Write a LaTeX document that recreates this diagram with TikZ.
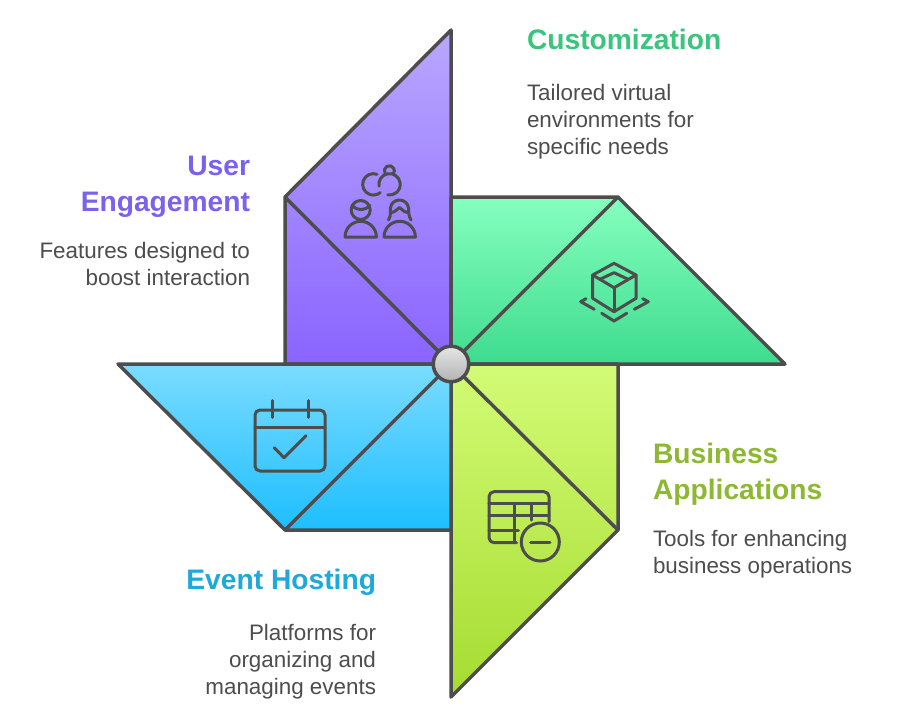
\documentclass[tikz,border=0pt]{standalone}
\usepackage{fontspec}
\setmainfont{Liberation Sans}
\newcommand{\ttl}{\fontsize{28.2}{36}\selectfont\bfseries}
\newcommand{\bdy}{\fontsize{22.4}{27}\selectfont}
\definecolor{ink}{HTML}{4D4D4D}
\definecolor{pTop}{HTML}{B9A7FF}\definecolor{pBot}{HTML}{8A64FF}
\definecolor{gTop}{HTML}{85FFBF}\definecolor{gBot}{HTML}{3EDC8E}
\definecolor{lTop}{HTML}{D3FB76}\definecolor{lBot}{HTML}{A5DC30}
\definecolor{bTop}{HTML}{7BDCFF}\definecolor{bBot}{HTML}{1DBEFF}
\definecolor{pTxt}{HTML}{7B61EC}
\definecolor{gTxt}{HTML}{3AC47D}
\definecolor{lTxt}{HTML}{8FB832}
\definecolor{bTxt}{HTML}{1EA8DB}
\tikzset{
  blade/.style={line width=3.5pt,draw=ink,line join=round},
  seam/.style={line width=3.5pt,draw=ink,line cap=round},
  ico/.style={line width=3pt,draw=ink,line cap=round,line join=round},
  txt/.style={inner sep=0pt,outer sep=0pt,text=ink},
}
\begin{document}
\begin{tikzpicture}[x=1pt,y=-1pt]
\useasboundingbox[fill=white] (0,0) rectangle (903,724);
\coordinate (c) at (451,364);
\coordinate (p1) at (285,197);
\coordinate (g1) at (618,197);
\coordinate (l1) at (618,530);
\coordinate (b1) at (285,530);
% blades
\path[blade,top color=pTop,bottom color=pBot] (451,30)--(p1)--(285,364)--(c)--cycle;
\path[blade,top color=gTop,bottom color=gBot] (451,197)--(g1)--(785,364)--(c)--cycle;
\path[blade,top color=lTop,bottom color=lBot] (c)--(618,364)--(l1)--(451,697)--cycle;
\path[blade,top color=bTop,bottom color=bBot] (118,364)--(c)--(451,530)--(b1)--cycle;
\draw[seam] (p1)--(c);
\draw[seam] (g1)--(c);
\draw[seam] (l1)--(c);
\draw[seam] (b1)--(c);
% hub
\node[circle,minimum size=35.5pt,inner sep=0pt,line width=3.5pt,draw=ink,top color=black!10,bottom color=black!30] (hub) at (c) {};
% user engagement icon
\draw[ico] (377,174.3) arc[start angle=290,end angle=50,radius=10.7];
\draw[ico] (379,186.2) arc[start angle=170,end angle=460,radius=10.7];
\draw[ico] (385,173.2) arc[start angle=150,end angle=390,radius=5];
\draw[ico] (360.7,210) circle[radius=9.5];
\draw[ico] (352,205.5) .. controls (358,211) and (364,211) .. (370,205.5);
\draw[ico] (345,237) arc[start angle=180,end angle=360,radius=15.7]--cycle;
\draw[ico] (384,237) arc[start angle=180,end angle=360,radius=15.7]--cycle;
\draw[ico] (388.5,220) .. controls (391.5,215) and (390,211) .. (390.5,208) .. controls (391,203) and (395,200) .. (399.5,200) .. controls (404,200) and (408,203) .. (408.5,208) .. controls (409,211) and (408,215) .. (411,220);
\draw[ico] (391,212.5) .. controls (395,212.5) and (397,209) .. (399.5,207.5) .. controls (402,209) and (404,212.5) .. (408,212.5);
% cube icon
\draw[ico] (614,263.3)--(636,275)--(636,298.3)--(614,311.7)--(592.7,298.3)--(592.7,275)--cycle;
\draw[ico] (592.7,275)--(614,287.7)--(636,275);
\draw[ico] (614,287.7)--(614,311.7);
\draw[ico] (600.5,279)--(614,272.7)--(627.5,279);
\draw[ico] (594.3,309.3)--(580.7,301.7)--(586,298.7);
\draw[ico] (634.3,309.3)--(648.3,301.7)--(642.7,298.7);
\draw[ico] (601.7,313.3)--(614,321)--(626.7,313.3);
% calendar icon
\draw[ico,rounded corners=5pt] (255,410) rectangle (325,471);
\draw[ico] (255,427)--(325,427);
\draw[ico] (272,400.7)--(272,417.3);
\draw[ico] (308,400.7)--(308,417.3);
\draw[ico] (274.3,447.7)--(284,457.7)--(306,435.7);
% table icon
\draw[ico,rounded corners=5pt] (516.7,542.7)--(489,542.7)--(489,491.7)--(549,491.7)--(549,521.7);
\draw[ico] (489,503.3)--(549,503.3);
\draw[ico] (489,515.7)--(549,515.7);
\draw[ico] (489,530)--(518.3,530);
\draw[ico] (514,503.3)--(514,542.7);
\draw[ico] (531,503.3)--(531,520);
\draw[ico] (540.3,542) circle[radius=19];
\draw[ico] (530.7,542)--(550,542);
% texts
\node[txt,anchor=north west,text=gTxt,font=\ttl] (t1) at (527,29) {Customization};
\node[txt,anchor=north west,align=left,font=\bdy] (d1) at (527,84.5) {Tailored virtual\\environments for\\specific needs};
\node[txt,anchor=north east,align=right,text=pTxt,font=\ttl] (t2) at (250,156) {User\\Engagement};
\node[txt,anchor=north east,align=right,font=\bdy] (d2) at (250,242.5) {Features designed to\\boost interaction};
\node[txt,anchor=north west,align=left,text=lTxt,font=\ttl] (t3) at (653,443) {Business\\Applications};
\node[txt,anchor=north west,align=left,font=\bdy] (d3) at (653,530.5) {Tools for enhancing\\business operations};
\node[txt,anchor=north east,text=bTxt,font=\ttl] (t4) at (376,569) {Event Hosting};
\node[txt,anchor=north east,align=right,font=\bdy] (d4) at (376,624.5) {Platforms for\\organizing and\\managing events};
\end{tikzpicture}
\end{document}
